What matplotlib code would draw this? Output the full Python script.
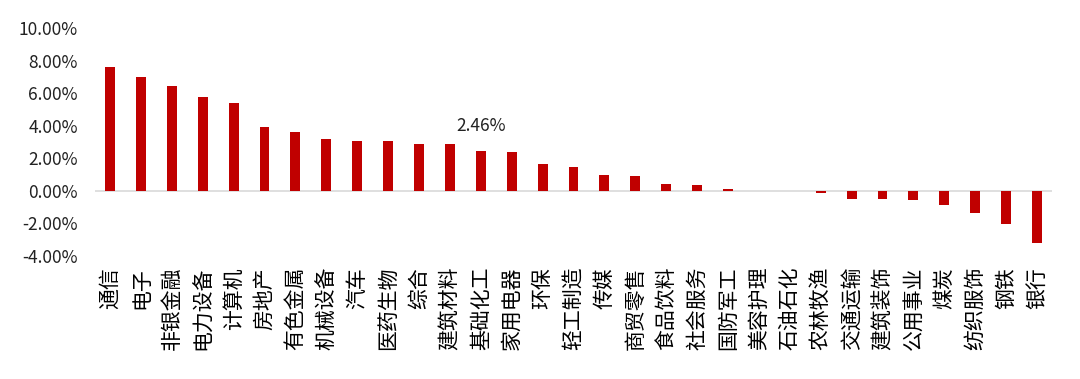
import matplotlib
matplotlib.use("Agg")
import matplotlib.pyplot as plt
from matplotlib.ticker import FuncFormatter

# ── Data ───────────────────────────────────────────────────────
industries = ["通信", "电子", "非银金融", "电力设备", "计算机", "房地产", "有色金属",
              "机械设备", "汽车", "医药生物", "综合", "建筑材料", "基础化工", "家用电器",
              "环保", "轻工制造", "传媒", "商贸零售", "食品饮料", "社会服务", "国防军工",
              "美容护理", "石油石化", "农林牧渔", "交通运输", "建筑装饰", "公用事业",
              "煤炭", "纺织服饰", "钢铁", "银行"]
returns = [7.61, 7.00, 6.46, 5.78, 5.37, 3.89, 3.60,
           3.17, 3.07, 3.06, 2.88, 2.88, 2.46, 2.40,
           1.65, 1.49, 0.94, 0.91, 0.39, 0.35, 0.11,
           0.00, 0.00, -0.16, -0.49, -0.53, -0.57,
           -0.88, -1.38, -2.06, -3.20]
y_ticks = [-4, -2, 0, 2, 4, 6, 8, 10]
label_idx = 12   # 基础化工 gets a value label
# ───────────────────────────────────────────────────────────────

BAR_COLOR = "#C00000"
plt.rcParams["font.family"] = ["Noto Sans CJK SC", "DejaVu Sans"]

fig = plt.figure(figsize=(10.8, 3.79), dpi=100)
ax = fig.add_axes([0.0875, 0.325, 0.887, 0.601])

x = range(len(industries))
ax.bar(x, returns, width=0.32, color=BAR_COLOR, zorder=3)
ax.axhline(0, color="#d9d9d9", linewidth=1.2, zorder=2)

ax.annotate(f"{returns[label_idx]:.2f}%", xy=(label_idx, returns[label_idx]),
            xytext=(0, 11), textcoords="offset points",
            ha="center", va="bottom", fontsize=12.5, color="#222222")

ax.set_xlim(-0.5, len(industries) - 0.5)
ax.set_ylim(-4, 10)
ax.set_yticks(y_ticks)
ax.yaxis.set_major_formatter(FuncFormatter(lambda v, _: f"{v:.2f}%"))
ax.set_xticks(list(x))
ax.set_xticklabels(industries, rotation=90, fontsize=15, va="top", ha="center")

ax.tick_params(axis="y", length=0, labelsize=12.5, pad=12, labelcolor="#222222")
ax.tick_params(axis="x", length=0, pad=8)
for s in ax.spines.values():
    s.set_visible(False)

plt.savefig("out.png", dpi=100)
